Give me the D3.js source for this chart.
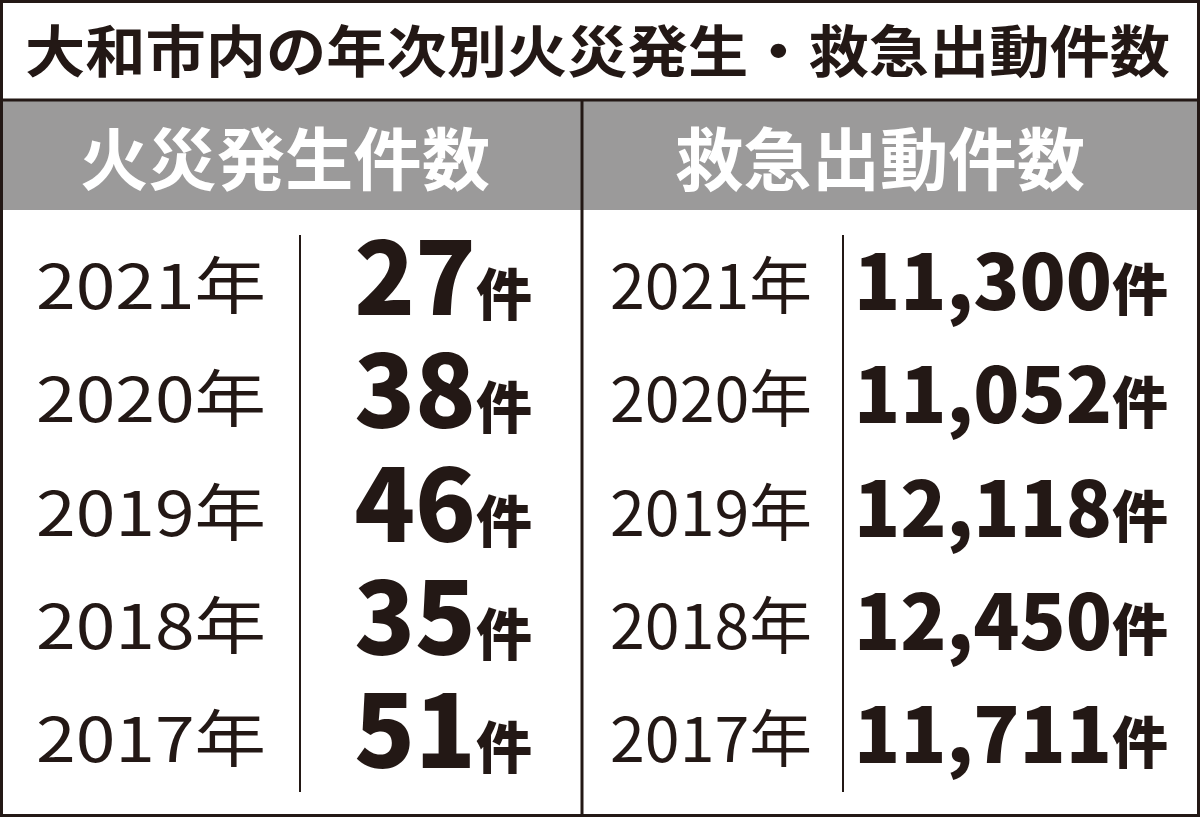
<!DOCTYPE html>
<html><head><meta charset="utf-8">
<script src="https://cdn.jsdelivr.net/npm/d3@7"></script>
<style>body{margin:0;background:#fff}</style></head><body>
<svg id="c" width="1200" height="817"></svg>
<script>
const title = "大和市内の年次別火災発生・救急出動件数";
const headers = ["火災発生件数", "救急出動件数"];
const years = ["2021年", "2020年", "2019年", "2018年", "2017年"];
const fires = [27, 38, 46, 35, 51];
const ambulance = [11300, 11052, 12118, 12450, 11711];
const unit = "件";

const svg = d3.select("#c");
const F = "'Noto Sans CJK JP', 'Noto Sans', sans-serif";
const ink = "#231815";
const y = d3.scalePoint().domain(years).range([285, 738]);

svg.append("rect").attr("x",1.5).attr("y",1.5).attr("width",1197).attr("height",814).attr("fill","#fff").attr("stroke",ink).attr("stroke-width",3);
svg.append("rect").attr("x",3).attr("y",100).attr("width",1194).attr("height",110).attr("fill","#9b9a9a");
svg.append("line").attr("x1",0).attr("x2",1200).attr("y1",100).attr("y2",100).attr("stroke",ink).attr("stroke-width",3);
svg.append("line").attr("x1",582).attr("x2",582).attr("y1",100).attr("y2",817).attr("stroke",ink).attr("stroke-width",3);
[300, 843].forEach(x => svg.append("line").attr("x1",x).attr("x2",x).attr("y1",235).attr("y2",792).attr("stroke",ink).attr("stroke-width",2));

svg.append("text").attr("x",25).attr("y",72).attr("font-family",F).attr("font-weight",700).attr("font-size",56).attr("fill",ink)
  .attr("textLength",1145).attr("lengthAdjust","spacingAndGlyphs").text(title);
[[80,410],[675,410]].forEach(([x,w],i) => svg.append("text").attr("x",x).attr("y",185).attr("font-family",F).attr("font-weight",700).attr("font-size",68).attr("fill","#fff")
  .attr("textLength",w).attr("lengthAdjust","spacingAndGlyphs").text(headers[i]));

const fmt = d3.format(",");
years.forEach((yr,i) => {
  const cy = y(yr);
  [[36,230],[610,202]].forEach(([x,w]) => svg.append("text").attr("x",x).attr("y",cy+24).attr("font-family",F).attr("font-size",62).attr("fill",ink)
    .attr("textLength",w).attr("lengthAdjust","spacingAndGlyphs").text(yr));
  const t1 = svg.append("text").attr("x",532).attr("y",cy+30).attr("text-anchor","end").attr("font-family",F).attr("font-weight",900).attr("fill",ink);
  t1.append("tspan").attr("font-size",100).text(fires[i]);
  t1.append("tspan").attr("font-size",56).text(unit);
  const t2 = svg.append("text").attr("x",1168).attr("y",cy+25).attr("text-anchor","end").attr("font-family",F).attr("font-weight",900).attr("fill",ink);
  t2.append("tspan").attr("font-size",76).text(fmt(ambulance[i]));
  t2.append("tspan").attr("font-size",56).text(unit);
});
</script></body></html>
